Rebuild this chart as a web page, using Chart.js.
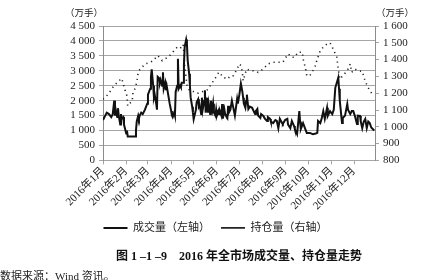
<!DOCTYPE html>
<html lang="zh-CN">
<head>
    <meta charset="UTF-8">
    <title>2016年全市场成交量、持仓量走势</title>
    <script src="https://cdn.jsdelivr.net/npm/chart.js"></script>
    <style>
        body { margin: 0; background: #fff; }
        #grafica { display: block; }
    </style>
</head>
<body>
    <canvas id="grafica" width="431" height="280"></canvas>
    <script>
        // eje x: dia del ano 2016 (0 = 1 de enero)
        const mesInicio = [0, 31, 60, 91, 121, 152, 182, 213, 244, 274, 305, 335];
        const mesEtiquetas = ['2016年1月', '2016年2月', '2016年3月', '2016年4月', '2016年5月', '2016年6月',
            '2016年7月', '2016年8月', '2016年9月', '2016年10月', '2016年11月', '2016年12月'];

        // 成交量（左轴，万手）
        const volDia = [
            0, 3, 5, 8, 11, 13, 15, 16, 17, 19,
            20, 21, 23, 24, 25, 27, 28, 29, 31, 32,
            33, 43, 44, 45, 47, 48, 49, 51, 53, 56,
            59, 60, 63, 64, 65, 67, 68, 69, 71, 72,
            73, 75, 76, 77, 79, 80, 81, 83, 84, 85,
            87, 89, 91, 92, 93, 95, 96, 97, 99, 100,
            101, 103, 104, 105, 107, 108, 109, 111, 112, 113,
            115, 116, 117, 119, 120, 121, 124, 125, 127, 128,
            129, 131, 132, 133, 135, 136, 137, 139, 140, 141,
            143, 144, 146, 147, 148, 150, 151, 152, 154, 155,
            156, 158, 159, 160, 162, 163, 164, 166, 167, 168,
            170, 172, 174, 176, 179, 180, 182, 184, 186, 187,
            188, 190, 191, 192, 194, 196, 199, 202, 203, 204,
            206, 207, 210, 211, 214, 216, 219, 220, 223, 224,
            227, 230, 232, 234, 236, 239, 240, 243, 246, 247,
            250, 252, 255, 256, 259, 262, 263, 264, 267, 270,
            272, 276, 280, 284, 286, 287, 290, 292, 294, 296,
            299, 300, 303, 306, 308, 310, 312, 314, 315, 316,
            318, 319, 320, 323, 326, 327, 330, 332, 334, 336,
            339, 340, 343, 344, 346, 348, 350, 352, 354, 356,
            358, 360, 362
        ];
        const volumen = [
            1350, 1500, 1600, 1550, 1450, 1550, 2000, 1500, 1700, 1450,
            1750, 1500, 1200, 1550, 1400, 1450, 1200, 1100, 900, 1000,
            800, 800, 1000, 1300, 1500, 1400, 1500, 1600, 1550, 1700,
            1900, 2200, 2400, 2800, 3050, 2500, 2100, 2200, 1900, 1700,
            2800, 2750, 2600, 2700, 2500, 2950, 2400, 2600, 2350, 2500,
            2200, 1900, 1650, 1500, 1450, 1600, 1500, 2300, 2500, 3400,
            2400, 2500, 2450, 2600, 2600, 3200, 3800, 4050, 3900, 3350,
            2900, 2500, 2100, 1800, 1600, 1380, 1700, 1950, 2050, 1800,
            1850, 1550, 2100, 1700, 2000, 2350, 1600, 2100, 1600, 1900,
            1550, 2000, 1700, 1900, 1600, 1500, 1700, 1500, 1650, 1550,
            1650, 1500, 1890, 1400, 1700, 1550, 1500, 1420, 1830, 1600,
            1700, 2000, 1750, 1500, 2060, 1900, 2200, 2570, 2300, 2100,
            1900, 1760, 2000, 2200, 1720, 1800, 1760, 1600, 1550, 1650,
            1720, 1500, 1420, 1550, 1490, 1400, 1320, 1450, 1390, 1300,
            1250, 1350, 1320, 1080, 1390, 1250, 1220, 1350, 1390, 1200,
            1080, 1320, 1150, 1050, 880, 1650, 1300, 1050, 1250, 1050,
            920, 920, 880, 900, 920, 1320, 1250, 1420, 1650, 1390,
            1760, 1490, 1650, 1550, 1700, 2430, 2600, 2770, 2400, 2000,
            1500, 1250, 1420, 1500, 1890, 1700, 1550, 1650, 1650, 1500,
            1220, 1500, 1490, 1300, 1080, 1300, 1390, 1080, 1300, 1250,
            1100, 1050, 1000
        ];

        // 持仓量（右轴，万手）
        const posDia = [
            0, 7, 13, 19, 23, 25, 29, 32, 33, 36,
            39, 40, 43, 45, 47, 49, 52, 56, 63, 67,
            73, 79, 83, 87, 93, 99, 103, 107, 108, 109,
            111, 112, 113, 116, 120, 123, 127, 129, 133, 136,
            140, 143, 146, 147, 150, 152, 154, 156, 159, 160,
            163, 166, 170, 174, 179, 182, 184, 186, 187, 190,
            192, 196, 203, 207, 214, 220, 227, 234, 240, 247,
            252, 256, 260, 266, 267, 270, 272, 276, 280, 283,
            286, 290, 294, 299, 303, 306, 310, 312, 314, 316,
            320, 326, 330, 332, 336, 340, 346, 350, 354, 359,
            360
        ];
        const posicion = [
            1164, 1194, 1234, 1264, 1280, 1288, 1224, 1184, 1124, 1140,
            1154, 1204, 1230, 1264, 1324, 1340, 1354, 1374, 1384, 1394,
            1424, 1394, 1406, 1414, 1444, 1474, 1466, 1490, 1440, 1360,
            1290, 1250, 1230, 1215, 1210, 1210, 1200, 1205, 1210, 1212,
            1222, 1244, 1260, 1274, 1290, 1304, 1320, 1324, 1300, 1294,
            1290, 1284, 1304, 1304, 1344, 1374, 1364, 1324, 1274, 1320,
            1344, 1334, 1334, 1324, 1344, 1374, 1384, 1384, 1384, 1434,
            1414, 1414, 1444, 1444, 1404, 1354, 1304, 1304, 1334, 1360,
            1404, 1454, 1474, 1494, 1500, 1474, 1434, 1414, 1344, 1284,
            1304, 1334, 1374, 1324, 1344, 1334, 1330, 1270, 1232, 1196,
            1190
        ];

        const FUENTE = "'Liberation Serif', 'Noto Sans CJK SC', serif";
        const GRIS = '#a6a6a6';

        function miles(v) {
            if (v < 1000) return String(v);
            return Math.floor(v / 1000) + ' ' + String(v % 1000).padStart(3, '0');
        }

        function puntos(xs, ys) {
            return xs.map((x, i) => ({ x: x, y: ys[i] }));
        }

        const unidades = {
            id: 'unidades',
            afterDraw(chart) {
                const ctx = chart.ctx;
                const area = chart.chartArea;
                ctx.save();
                ctx.font = '9.5px ' + FUENTE;
                ctx.fillStyle = '#222';
                ctx.textBaseline = 'middle';
                ctx.textAlign = 'right';
                ctx.fillText('（万手）', area.left, 13);
                ctx.textAlign = 'left';
                ctx.fillText('（万手）', area.right + 1, 13);
                ctx.restore();
            }
        };

        new Chart(document.getElementById('grafica'), {
            type: 'line',
            data: {
                datasets: [{
                    label: '成交量（左轴）',
                    data: puntos(volDia, volumen),
                    yAxisID: 'y',
                    borderColor: '#111',
                    borderWidth: 2,
                    pointRadius: 0,
                    tension: 0
                }, {
                    label: '持仓量（右轴）',
                    data: puntos(posDia, posicion),
                    yAxisID: 'y2',
                    borderColor: '#222',
                    borderWidth: 1.6,
                    borderDash: [1.2, 3.8],
                    pointRadius: 0,
                    tension: 0
                }]
            },
            options: {
                responsive: false,
                animation: false,
                events: [],
                layout: { padding: { top: 26, left: 0, right: 0, bottom: -4 } },
                scales: {
                    x: {
                        type: 'linear',
                        min: 0,
                        max: 363,
                        afterBuildTicks: (scale) => { scale.ticks = mesInicio.map(v => ({ value: v })); },
                        afterFit: (scale) => { scale.height = 51; },
                        grid: { drawOnChartArea: false, color: GRIS, tickLength: 4 },
                        border: { color: GRIS },
                        ticks: {
                            autoSkip: false,
                            maxRotation: 45,
                            minRotation: 45,
                            padding: 0,
                            color: '#222',
                            font: { family: FUENTE, size: 11 },
                            callback: (v) => mesEtiquetas[mesInicio.indexOf(v)]
                        }
                    },
                    y: {
                        position: 'left',
                        min: 0,
                        max: 4500,
                        afterFit: (scale) => { scale.width = 103; },
                        grid: { color: GRIS, tickLength: 4 },
                        border: { color: '#8c8c8c' },
                        ticks: {
                            stepSize: 500,
                            autoSkip: false,
                            padding: 4,
                            color: '#222',
                            font: { family: FUENTE, size: 11 },
                            callback: (v) => miles(v)
                        }
                    },
                    y2: {
                        position: 'right',
                        min: 800,
                        max: 1600,
                        afterFit: (scale) => { scale.width = 56; },
                        grid: { drawOnChartArea: false, color: GRIS, tickLength: 4 },
                        border: { color: '#8c8c8c' },
                        ticks: {
                            stepSize: 100,
                            autoSkip: false,
                            padding: 4,
                            color: '#222',
                            font: { family: FUENTE, size: 11 },
                            callback: (v) => miles(v)
                        }
                    }
                },
                plugins: {
                    tooltip: { enabled: false },
                    legend: {
                        position: 'bottom',
                        labels: {
                            usePointStyle: true,
                            pointStyle: 'line',
                            pointStyleWidth: 24,
                            padding: 11,
                            color: '#222',
                            font: { family: FUENTE, size: 11 }
                        }
                    },
                    title: {
                        display: true,
                        position: 'bottom',
                        fullSize: false,
                        text: '图 1 –1 –9　2016 年全市场成交量、持仓量走势',
                        color: '#111',
                        font: { family: FUENTE, size: 12, weight: 'bold' },
                        padding: { top: 6, bottom: 0 }
                    },
                    subtitle: {
                        display: true,
                        position: 'bottom',
                        align: 'start',
                        weight: 3000,
                        text: '数据来源：Wind 资讯。',
                        color: '#222',
                        font: { family: FUENTE, size: 11 },
                        padding: { top: 7, bottom: 0 }
                    }
                }
            },
            plugins: [unidades]
        });
    </script>
</body>
</html>
